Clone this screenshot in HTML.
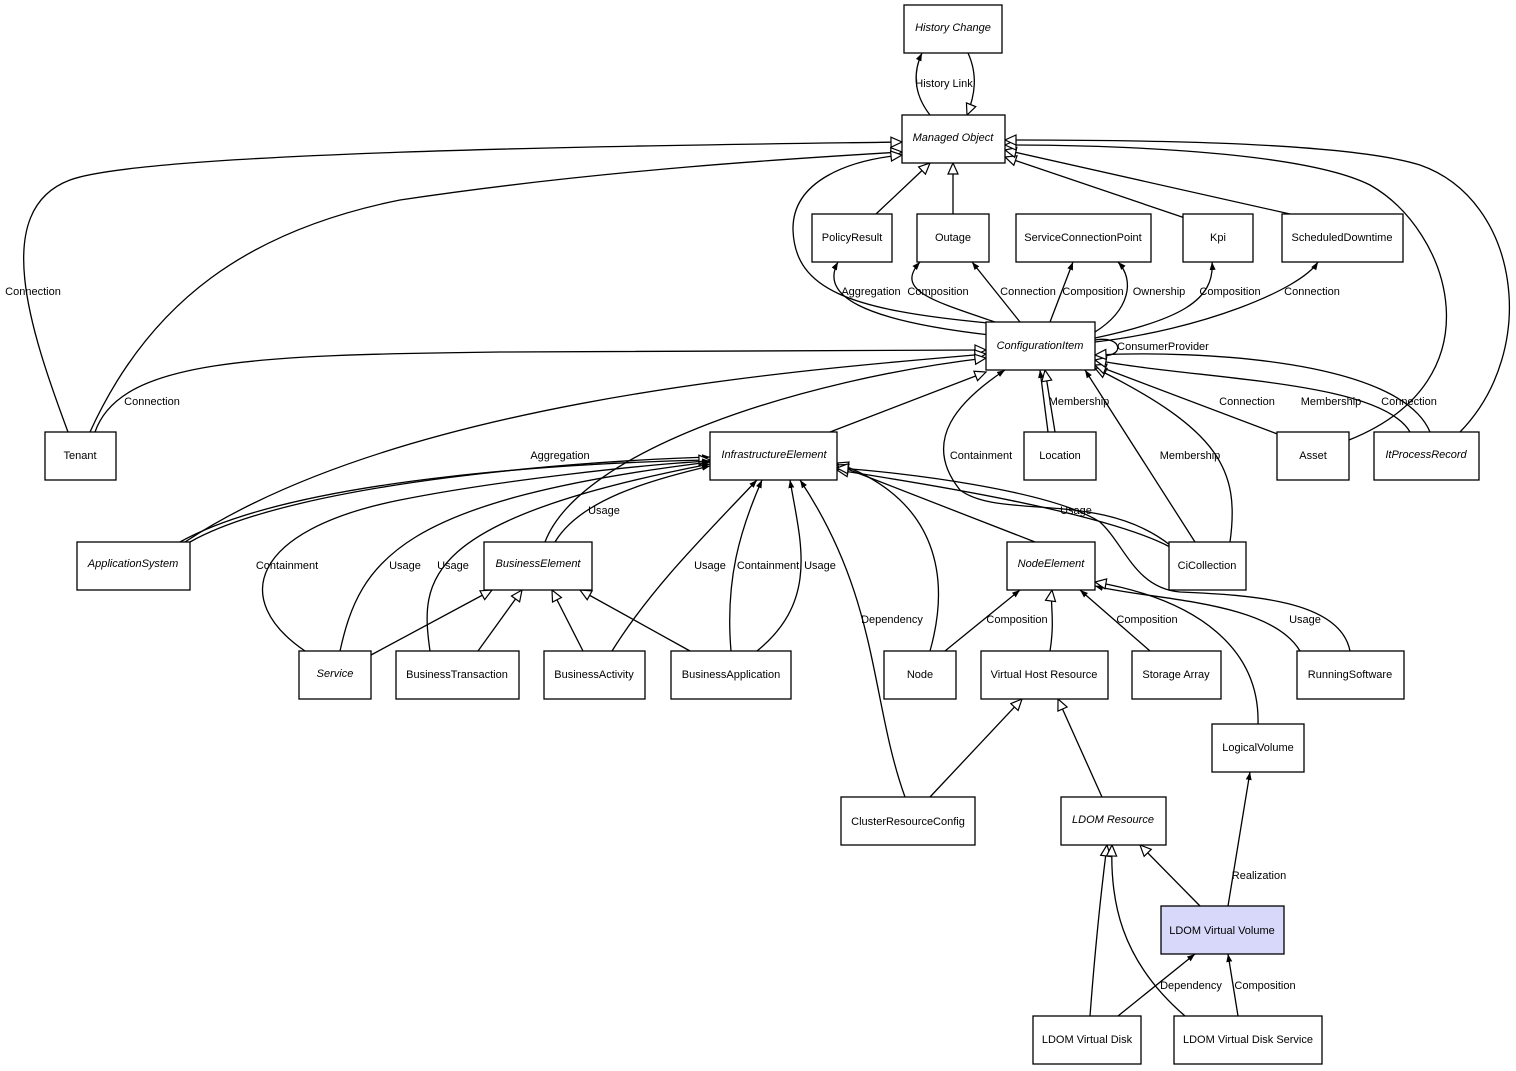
<!DOCTYPE html>
<html><head><meta charset="utf-8"><style>
html,body{margin:0;padding:0;background:#fff;}
svg{display:block;font-family:"Liberation Sans",Arial,sans-serif;font-size:11px;}
.b{fill:#fff;stroke:#000;stroke-width:1.3;}
.e{fill:none;stroke:#000;stroke-width:1.3;}
.h{marker-end:url(#hol);}
.f{marker-end:url(#fil);}
text{fill:#000;}
.i{font-style:italic;}
</style></head><body>
<svg width="1516" height="1071" viewBox="0 0 1516 1071">
<defs>
<marker id="hol" markerUnits="userSpaceOnUse" markerWidth="14" markerHeight="12" refX="11" refY="5" orient="auto" viewBox="-1 -1 13 12">
<path d="M0,0 L11,5 L0,10 z" fill="#fff" stroke="#000" stroke-width="1.2"/></marker>
<marker id="fil" markerUnits="userSpaceOnUse" markerWidth="9" markerHeight="8" refX="8" refY="3" orient="auto" viewBox="0 0 9 7">
<path d="M0,0 L8,3 L0,6 z" fill="#000"/></marker>
</defs>

<!-- edges -->
<path class="e f" d="M930,115 C912,92 914,70 922,53"/>
<path class="e h" d="M968,53 C978,75 975,95 967,115"/>
<path class="e h" d="M68,432 C30,330 -10,210 70,180 C150,150 700,145 902,142"/>
<path class="e h" d="M90,432 C150,300 250,230 400,200 C600,170 800,158 902,152"/>
<path class="e h" d="M95,432 C120,360 250,355 500,352 C700,350 900,350 986,350"/>
<path class="e h" d="M876,214 L930,163"/>
<path class="e h" d="M953,214 L953,163"/>
<path class="e h" d="M1185,218 L1005,157"/>
<path class="e h" d="M1290,214 L1005,150"/>
<path class="e h" d="M1349,440 C1500,380 1450,230 1370,185 C1300,150 1100,145 1005,145"/>
<path class="e h" d="M1460,432 C1540,350 1520,200 1420,165 C1340,140 1100,140 1005,140"/>
<path class="e h" d="M988,323 C850,310 795,290 793,230 C792,180 850,160 902,155"/>
<path class="e f" d="M990,335 C860,320 820,295 838,262"/>
<path class="e f" d="M995,322 C930,300 895,290 920,262"/>
<path class="e f" d="M1020,322 L972,262"/>
<path class="e f" d="M1050,322 L1073,262"/>
<path class="e f" d="M1095,332 C1130,310 1135,280 1118,262"/>
<path class="e f" d="M1095,338 C1180,320 1215,300 1212,262"/>
<path class="e f" d="M1095,342 C1200,330 1300,290 1318,262"/>
<path class="e f" d="M1095,340 C1125,335 1125,360 1097,355"/>
<path class="e h" d="M185,542 C400,400 800,370 986,354"/>
<path class="e h" d="M545,542 C580,450 800,380 986,358"/>
<path class="e h" d="M830,432 L986,372"/>
<path class="e h" d="M1055,432 L1045,370"/>
<path class="e f" d="M1048,432 L1040,370"/>
<path class="e f" d="M1170,545 C1100,490 1000,520 960,490 C920,440 960,400 1005,370"/>
<path class="e f" d="M1195,542 L1085,370"/>
<path class="e h" d="M1230,542 C1240,470 1220,430 1095,368"/>
<path class="e h" d="M1280,435 L1095,365"/>
<path class="e h" d="M1410,432 C1380,380 1200,380 1095,360"/>
<path class="e h" d="M1430,432 C1400,360 1200,350 1095,355"/>
<path class="e f" d="M190,542 C300,480 600,460 710,457"/>
<path class="e h" d="M180,542 C300,475 600,462 710,460"/>
<path class="e f" d="M305,651 C230,600 250,530 400,500 C500,480 650,464 710,461"/>
<path class="e f" d="M340,651 C360,560 400,500 710,462"/>
<path class="e f" d="M430,651 C420,580 420,520 710,464"/>
<path class="e f" d="M555,542 C580,500 650,480 710,466"/>
<path class="e f" d="M612,651 C650,590 700,540 757,480"/>
<path class="e f" d="M731,651 C725,580 740,530 762,480"/>
<path class="e f" d="M757,651 C820,600 800,540 790,480"/>
<path class="e f" d="M905,797 C870,700 880,600 800,480"/>
<path class="e h" d="M930,651 C950,580 940,500 837,463"/>
<path class="e h" d="M1035,542 L837,465"/>
<path class="e h" d="M1170,547 C1100,510 900,480 837,470"/>
<path class="e h" d="M1350,651 C1340,600 1250,595 1180,592 C1135,588 1125,545 1100,522 C1050,490 900,472 837,468"/>
<path class="e h" d="M371,655 L492,590"/>
<path class="e h" d="M478,651 L522,590"/>
<path class="e h" d="M583,651 L552,590"/>
<path class="e h" d="M690,651 L580,590"/>
<path class="e f" d="M945,651 L1020,590"/>
<path class="e h" d="M1050,651 C1055,620 1050,605 1052,590"/>
<path class="e f" d="M1150,651 L1080,590"/>
<path class="e f" d="M1300,651 C1270,600 1150,600 1095,586"/>
<path class="e h" d="M1258,724 C1260,650 1200,600 1095,582"/>
<path class="e h" d="M930,797 L1022,699"/>
<path class="e h" d="M1102,797 L1058,699"/>
<path class="e f" d="M1228,906 L1250,772"/>
<path class="e h" d="M1200,906 L1140,845"/>
<path class="e h" d="M1090,1016 C1095,950 1100,900 1107,845"/>
<path class="e h" d="M1185,1016 C1120,960 1110,900 1112,845"/>
<path class="e f" d="M1118,1016 L1195,954"/>
<path class="e f" d="M1238,1016 L1228,954"/>

<!-- edge labels -->
<g text-anchor="middle">
<text x="944" y="87">History Link</text>
<text x="33" y="295">Connection</text>
<text x="152" y="405">Connection</text>
<text x="871" y="295">Aggregation</text>
<text x="938" y="295">Composition</text>
<text x="1028" y="295">Connection</text>
<text x="1093" y="295">Composition</text>
<text x="1159" y="295">Ownership</text>
<text x="1230" y="295">Composition</text>
<text x="1312" y="295">Connection</text>
<text x="1163" y="350">ConsumerProvider</text>
<text x="1079" y="405">Membership</text>
<text x="1247" y="405">Connection</text>
<text x="1331" y="405">Membership</text>
<text x="1409" y="405">Connection</text>
<text x="560" y="459">Aggregation</text>
<text x="981" y="459">Containment</text>
<text x="1190" y="459">Membership</text>
<text x="604" y="514">Usage</text>
<text x="1076" y="514">Usage</text>
<text x="287" y="569">Containment</text>
<text x="405" y="569">Usage</text>
<text x="453" y="569">Usage</text>
<text x="710" y="569">Usage</text>
<text x="768" y="569">Containment</text>
<text x="820" y="569">Usage</text>
<text x="892" y="623">Dependency</text>
<text x="1017" y="623">Composition</text>
<text x="1147" y="623">Composition</text>
<text x="1305" y="623">Usage</text>
<text x="1259" y="879">Realization</text>
<text x="1191" y="989">Dependency</text>
<text x="1265" y="989">Composition</text>
</g>

<!-- nodes -->
<g>
<rect class="b" x="904" y="5" width="98" height="48"/>
<rect class="b" x="902" y="115" width="103" height="48"/>
<rect class="b" x="812" y="214" width="80" height="48"/>
<rect class="b" x="917" y="214" width="72" height="48"/>
<rect class="b" x="1016" y="214" width="135" height="48"/>
<rect class="b" x="1183" y="214" width="70" height="48"/>
<rect class="b" x="1282" y="214" width="121" height="48"/>
<rect class="b" x="986" y="322" width="109" height="48"/>
<rect class="b" x="45" y="432" width="71" height="48"/>
<rect class="b" x="710" y="432" width="127" height="48"/>
<rect class="b" x="1024" y="432" width="72" height="48"/>
<rect class="b" x="1277" y="432" width="72" height="48"/>
<rect class="b" x="1374" y="432" width="105" height="48"/>
<rect class="b" x="77" y="542" width="113" height="48"/>
<rect class="b" x="484" y="542" width="108" height="48"/>
<rect class="b" x="1007" y="542" width="88" height="48"/>
<rect class="b" x="1169" y="542" width="77" height="48"/>
<rect class="b" x="299" y="651" width="72" height="48"/>
<rect class="b" x="396" y="651" width="123" height="48"/>
<rect class="b" x="544" y="651" width="101" height="48"/>
<rect class="b" x="671" y="651" width="120" height="48"/>
<rect class="b" x="884" y="651" width="72" height="48"/>
<rect class="b" x="981" y="651" width="127" height="48"/>
<rect class="b" x="1132" y="651" width="89" height="48"/>
<rect class="b" x="1297" y="651" width="107" height="48"/>
<rect class="b" x="1212" y="724" width="92" height="48"/>
<rect class="b" x="841" y="797" width="134" height="48"/>
<rect class="b" x="1061" y="797" width="105" height="48"/>
<rect class="b" x="1161" y="906" width="123" height="48" style="fill:#d8d8fa"/>
<rect class="b" x="1033" y="1016" width="108" height="48"/>
<rect class="b" x="1174" y="1016" width="148" height="48"/>
</g>
<g text-anchor="middle">
<text class="i" x="953" y="31">History Change</text>
<text class="i" x="953" y="141">Managed Object</text>
<text x="852" y="241">PolicyResult</text>
<text x="953" y="241">Outage</text>
<text x="1083" y="241">ServiceConnectionPoint</text>
<text x="1218" y="241">Kpi</text>
<text x="1342" y="241">ScheduledDowntime</text>
<text class="i" x="1040" y="349">ConfigurationItem</text>
<text x="80" y="459">Tenant</text>
<text class="i" x="774" y="458">InfrastructureElement</text>
<text x="1060" y="459">Location</text>
<text x="1313" y="459">Asset</text>
<text class="i" x="1426" y="458">ItProcessRecord</text>
<text class="i" x="133" y="567">ApplicationSystem</text>
<text class="i" x="538" y="567">BusinessElement</text>
<text class="i" x="1051" y="567">NodeElement</text>
<text x="1207" y="569">CiCollection</text>
<text class="i" x="335" y="677">Service</text>
<text x="457" y="678">BusinessTransaction</text>
<text x="594" y="678">BusinessActivity</text>
<text x="731" y="678">BusinessApplication</text>
<text x="920" y="678">Node</text>
<text x="1044" y="678">Virtual Host Resource</text>
<text x="1176" y="678">Storage Array</text>
<text x="1350" y="678">RunningSoftware</text>
<text x="1258" y="751">LogicalVolume</text>
<text x="908" y="825">ClusterResourceConfig</text>
<text class="i" x="1113" y="823">LDOM Resource</text>
<text x="1222" y="934">LDOM Virtual Volume</text>
<text x="1087" y="1043">LDOM Virtual Disk</text>
<text x="1248" y="1043">LDOM Virtual Disk Service</text>
</g>
</svg>
</body></html>
